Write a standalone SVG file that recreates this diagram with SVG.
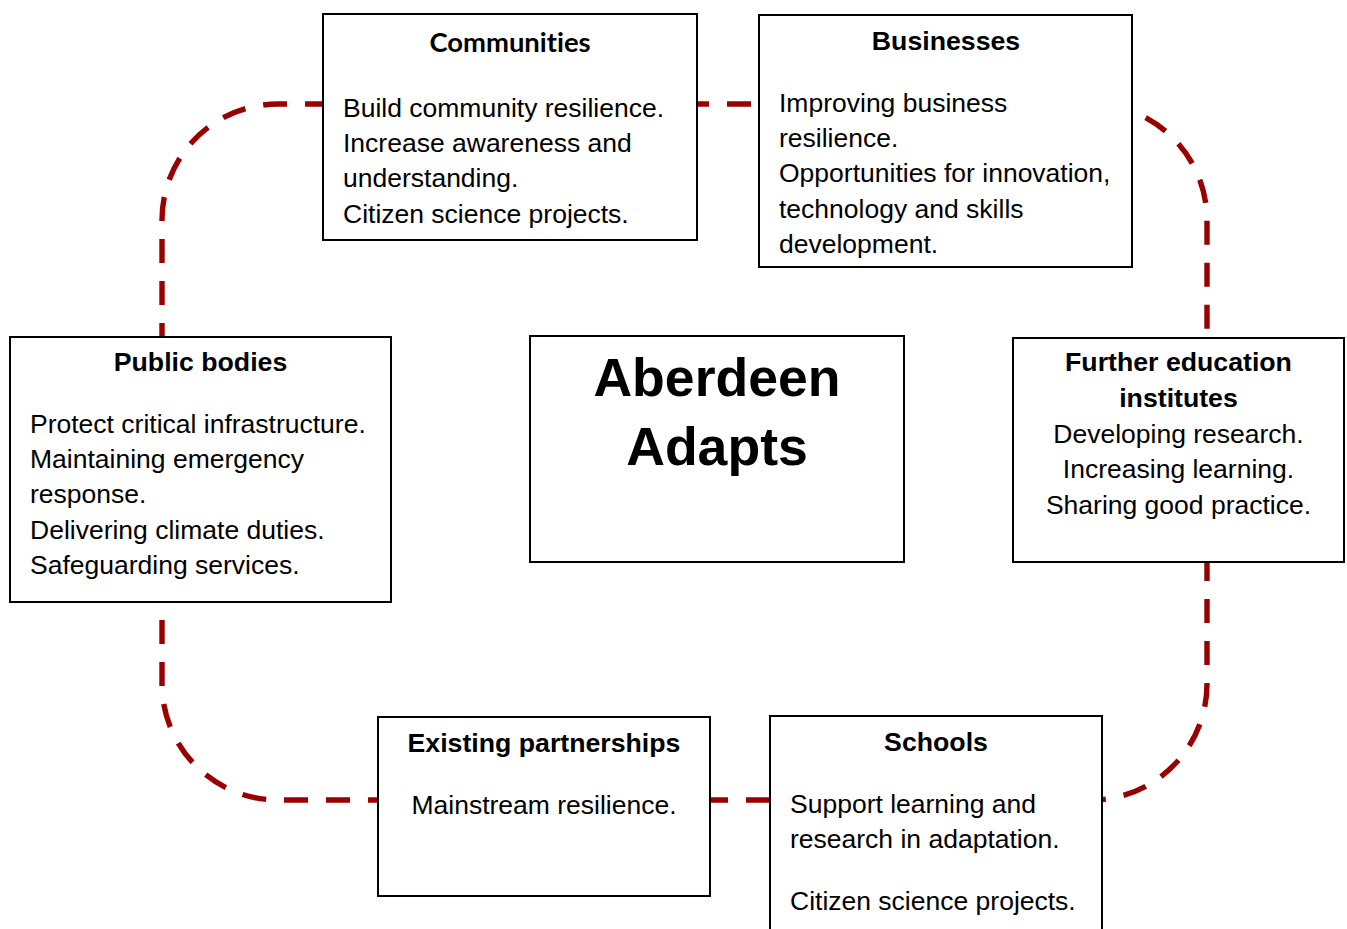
<svg xmlns="http://www.w3.org/2000/svg" width="1347" height="929" viewBox="0 0 1347 929">
  <style>
    .box { fill: #ffffff; stroke: #000000; stroke-width: 2; }
    .link { fill: none; stroke: #990000; stroke-width: 5.4; stroke-dasharray: 24 18; }
    .title { font-family: "Liberation Sans", Arial, sans-serif; font-weight: 700; font-size: 26.7px; fill: #000; }
    .title-alt { font-family: Lato, "Open Sans", sans-serif; font-weight: 700; font-size: 27.4px; fill: #000; font-variant-ligatures: none; }
    .body { font-family: "Liberation Sans", Arial, sans-serif; font-size: 26.5px; fill: #000; }
    .hero { font-family: "Liberation Sans", Arial, sans-serif; font-weight: 700; font-size: 53.6px; fill: #000; }
    .mid { text-anchor: middle; }
  </style>

  <!-- dashed ring linking the partner groups -->
  <g id="connectors">
    <path class="link" style="stroke-dashoffset:6" d="M 323 104 H 278 A 116 116 0 0 0 162 220 V 337"/>
    <path class="link" style="stroke-dashoffset:12" d="M 697 104 H 759"/>
    <path class="link" style="stroke-dashoffset:27" d="M 1132 111.5 A 116 116 0 0 1 1207 220 V 338"/>
    <path class="link" style="stroke-dashoffset:5" d="M 1207 562 V 684 A 116 116 0 0 1 1102 799.5"/>
    <path class="link" d="M 770 800 H 710"/>
    <path class="link" style="stroke-dashoffset:14" d="M 378 800 H 278 A 116 116 0 0 1 162 684 V 602"/>
  </g>

  <g id="communities">
    <rect class="box" x="323" y="14" width="374" height="226"/>
    <text class="title-alt mid" x="510" y="52">Communities</text>
    <text class="body" x="343" y="117">Build community resilience.</text>
    <text class="body" x="343" y="152">Increase awareness and</text>
    <text class="body" x="343" y="187">understanding.</text>
    <text class="body" x="343" y="223">Citizen science projects.</text>
  </g>

  <g id="businesses">
    <rect class="box" x="759" y="15" width="373" height="252"/>
    <text class="title mid" x="946" y="50">Businesses</text>
    <text class="body" x="779" y="112">Improving business</text>
    <text class="body" x="779" y="147">resilience.</text>
    <text class="body" x="779" y="182">Opportunities for innovation,</text>
    <text class="body" x="779" y="218">technology and skills</text>
    <text class="body" x="779" y="253">development.</text>
  </g>

  <g id="public-bodies">
    <rect class="box" x="10" y="337" width="381" height="265"/>
    <text class="title mid" x="200.5" y="371">Public bodies</text>
    <text class="body" x="30" y="433">Protect critical infrastructure.</text>
    <text class="body" x="30" y="468">Maintaining emergency</text>
    <text class="body" x="30" y="503">response.</text>
    <text class="body" x="30" y="539">Delivering climate duties.</text>
    <text class="body" x="30" y="574">Safeguarding services.</text>
  </g>

  <g id="aberdeen-adapts">
    <rect class="box" x="530" y="336" width="374" height="226"/>
    <text class="hero mid" x="717" y="396">Aberdeen</text>
    <text class="hero mid" x="717" y="465">Adapts</text>
  </g>

  <g id="further-education">
    <rect class="box" x="1013" y="338" width="331" height="224"/>
    <text class="title mid" x="1178.5" y="371">Further education</text>
    <text class="title mid" x="1178.5" y="407">institutes</text>
    <text class="body mid" x="1178.5" y="443">Developing research.</text>
    <text class="body mid" x="1178.5" y="478">Increasing learning.</text>
    <text class="body mid" x="1178.5" y="514">Sharing good practice.</text>
  </g>

  <g id="existing-partnerships">
    <rect class="box" x="378" y="717" width="332" height="179"/>
    <text class="title mid" x="544" y="752">Existing partnerships</text>
    <text class="body mid" x="544" y="814">Mainstream resilience.</text>
  </g>

  <g id="schools">
    <rect class="box" x="770" y="716" width="332" height="230"/>
    <text class="title mid" x="936" y="751">Schools</text>
    <text class="body" x="790" y="813">Support learning and</text>
    <text class="body" x="790" y="848">research in adaptation.</text>
    <text class="body" x="790" y="910">Citizen science projects.</text>
  </g>
</svg>
